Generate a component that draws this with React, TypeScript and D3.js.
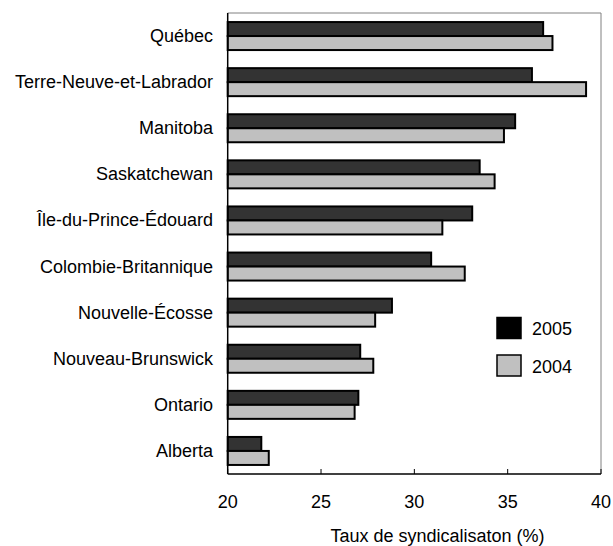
import React from "react";
import * as d3 from "d3";

const provinces = [
  "Québec",
  "Terre-Neuve-et-Labrador",
  "Manitoba",
  "Saskatchewan",
  "Île-du-Prince-Édouard",
  "Colombie-Britannique",
  "Nouvelle-Écosse",
  "Nouveau-Brunswick",
  "Ontario",
  "Alberta",
];
const values2005 = [36.9, 36.3, 35.4, 33.5, 33.1, 30.9, 28.8, 27.1, 27.0, 21.8];
const values2004 = [37.4, 39.2, 34.8, 34.3, 31.5, 32.7, 27.9, 27.8, 26.8, 22.2];
const xTicks = [20, 25, 30, 35, 40];
const seriesNames = ["2005", "2004"];
const axisTitle = "Taux de syndicalisaton (%)";

export default function App() {
  const W = 613, H = 546;
  const left = 227.7, right = 601, top = 13, bottom = 474;
  const x = d3.scaleLinear().domain([20, 40]).range([left, right]);
  const y = d3.scaleBand().domain(provinces).range([top, bottom]).paddingInner(0).paddingOuter(0);
  const bw = y.bandwidth();
  const barH = 14;
  const off = (bw - 2 * barH) / 2;
  const font = "'Liberation Sans', Arial, sans-serif";
  const fs = 18;
  return (
    <svg width={W} height={H} style={{ position: "absolute", left: 0, top: 0 }} fontFamily={font}>
      <rect x={0} y={0} width={W} height={H} fill="#fff" />
      {/* frame */}
      <line x1={left} y1={top} x2={right} y2={top} stroke="#808080" strokeWidth={1} />
      <line x1={right} y1={top} x2={right} y2={bottom} stroke="#808080" strokeWidth={1} />
      {provinces.map((p, i) => {
        const y0 = (y(p) as number) + off;
        return (
          <g key={p}>
            <rect x={x(20)} y={y0} width={x(values2005[i]) - x(20)} height={barH}
              fill="#333333" stroke="#000" strokeWidth={2} />
            <rect x={x(20)} y={y0 + barH} width={x(values2004[i]) - x(20)} height={barH}
              fill="#c0c0c0" stroke="#000" strokeWidth={2} />
            <text x={213} y={(y(p) as number) + bw / 2} textAnchor="end" dominantBaseline="central"
              fontSize={fs} fill="#000">{p}</text>
          </g>
        );
      })}
      {/* axes */}
      <line x1={left} y1={top} x2={left} y2={bottom} stroke="#000" strokeWidth={1.5} />
      <line x1={left} y1={bottom} x2={right} y2={bottom} stroke="#000" strokeWidth={1.5} />
      {xTicks.map((t) => (
        <g key={t}>
          <line x1={x(t)} y1={bottom} x2={x(t)} y2={bottom - 5} stroke="#000" strokeWidth={1} />
          <text x={x(t)} y={502} textAnchor="middle" dominantBaseline="central" fontSize={fs} fill="#000">{t}</text>
        </g>
      ))}
      <text x={437.5} y={536} textAnchor="middle" dominantBaseline="central" fontSize={fs} fill="#000">{axisTitle}</text>
      {/* legend */}
      {seriesNames.map((s, i) => (
        <g key={s}>
          <rect x={497} y={317.5 + i * 37.5} width={24} height={21}
            fill={i === 0 ? "#000" : "#c0c0c0"} stroke="#000" strokeWidth={1.5} />
          <text x={532} y={329 + i * 37.5} dominantBaseline="central" fontSize={fs} fill="#000">{s}</text>
        </g>
      ))}
    </svg>
  );
}
